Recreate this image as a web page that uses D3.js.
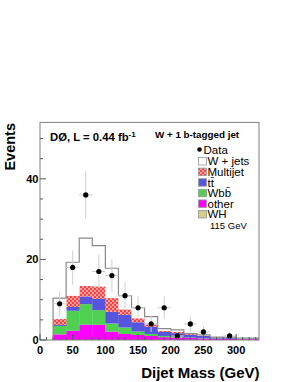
<!DOCTYPE html>
<html><head><meta charset="utf-8">
<script src="https://cdn.jsdelivr.net/npm/d3@7"></script>
<style>body{margin:0;background:#fff}svg{display:block;font-family:"Liberation Sans",Arial,Helvetica,sans-serif}</style>
</head><body><svg id="c" width="295" height="382"></svg>
<script>
// bins: 20 GeV wide, lower edges
const binLow = [20,40,60,80,100,120,140,160,180,200,220,240,260,280,300,320];
const binWidth = 20;
// stacked components (Events per bin)
const other    = [1.4,2.3,3.8,3.8,2.1,1.5,1.25,1.0,0.7,0.6,0.5,0.4,0.3,0.25,0.2,0.2];
const wbb      = [2.1,4.95,5.1,3.6,2.0,1.6,0.85,0.5,0.3,0.2,0.1,0.1,0.05,0.05,0.05,0.0];
const ttbar    = [0.25,0.95,1.9,2.85,2.9,3.15,2.3,1.8,1.0,0.9,0.7,0.5,0.25,0.25,0.15,0.15];
const multijet = [1.45,2.8,2.6,3.05,3.4,1.35,1.0,0.6,0.3,0.3,0.2,0.1,0.05,0.05,0.05,0.05];
const wjets    = [5.2,8.3,11.9,10.1,7.4,3.4,2.6,1.9,0.5,0.5,0.1,0.15,0.05,0.1,0.05,0.05];
// data points (bin centres)
const dataX = [30,50,70,90,110,130,150,170,190,210,230,250,270,290,310,330];
const dataN = [9,18,36,17,16,11,8,4,8,1,4,2,0,1,0,0];
const xTicks = [0,50,100,150,200,250,300];
const yTicks = [0,20,40];
const legendNames = ["W + jets","Multijet","tt\u0304","Wbb\u0304","other","WH"];

const svg = d3.select("#c");
const x = d3.scaleLinear().domain([0,335]).range([40,259]);
const y = d3.scaleLinear().domain([0,54]).range([340,122.4]);

const defs = svg.append("defs");
const pat = defs.append("pattern").attr("id","mj").attr("patternUnits","userSpaceOnUse")
  .attr("width",4).attr("height",4);
pat.append("rect").attr("width",4).attr("height",4).attr("fill","#ff4040");
pat.append("rect").attr("x",0).attr("y",0.5).attr("width",2).attr("height",1).attr("fill","#fff");
pat.append("rect").attr("x",2).attr("y",2.5).attr("width",2).attr("height",1).attr("fill","#fff");
defs.append("clipPath").attr("id","clip").append("rect")
  .attr("x",40).attr("y",122.4).attr("width",219).attr("height",217.6);

const keys = ["other","wbb","ttbar","multijet","wjets"];
const fills = {other:"#ff00ff", wbb:"#50d050", ttbar:"#5555dd", multijet:"url(#mj)", wjets:"#ffffff"};
const rows = binLow.map((b,i)=>({lo:b, other:other[i], wbb:wbb[i], ttbar:ttbar[i], multijet:multijet[i], wjets:wjets[i]}));
const stacked = d3.stack().keys(keys)(rows);

const g = svg.append("g").attr("clip-path","url(#clip)");
stacked.forEach(layer=>{
  g.append("g").selectAll("rect").data(layer).join("rect")
    .attr("x",d=>x(d.data.lo)).attr("width",d=>x(d.data.lo+binWidth)-x(d.data.lo)+0.3)
    .attr("y",d=>y(d[1])).attr("height",d=>Math.max(0,y(d[0])-y(d[1])))
    .attr("fill",fills[layer.key]);
});
// outline of total
const totals = stacked[stacked.length-1].map(d=>d[1]);
let pts = [[binLow[0],0]];
binLow.forEach((b,i)=>{pts.push([b,totals[i]]);pts.push([b+binWidth,totals[i]]);});
g.append("path").attr("d", d3.line().x(p=>x(p[0])).y(p=>y(p[1]))(pts))
  .attr("fill","none").attr("stroke","#8a8a8a").attr("stroke-width",1.2);

// data
const dg = svg.append("g");
dataX.forEach((c,i)=>{
  const n = dataN[i]; if(n<=0) return;
  const e = Math.sqrt(n);
  dg.append("line").attr("x1",x(c)).attr("x2",x(c)).attr("y1",y(n+e)).attr("y2",y(n-e))
    .attr("stroke","#cfcfcf").attr("stroke-width",1);
  dg.append("line").attr("x1",x(c-10)).attr("x2",x(c+10)).attr("y1",y(n)).attr("y2",y(n))
    .attr("stroke","#cfcfcf").attr("stroke-width",1);
});
dg.selectAll("circle").data(dataX.map((c,i)=>[c,dataN[i]]).filter(d=>d[1]>0)).join("circle")
  .attr("cx",d=>x(d[0])).attr("cy",d=>y(d[1])).attr("r",2.6).attr("fill","#000");

// frame
svg.append("rect").attr("x",40).attr("y",122.4).attr("width",219).attr("height",217.6)
  .attr("fill","none").attr("stroke","#808080").attr("stroke-width",1);

// ticks
const tg = svg.append("g").attr("stroke","#555").attr("stroke-width",1);
d3.range(0,331,10).forEach(v=>{
  const major = v%50===0;
  tg.append("line").attr("x1",x(v)).attr("x2",x(v)).attr("y1",340).attr("y2",340-(major?6:3));
});
d3.range(0,55,5).forEach(v=>{
  const major = v%20===0;
  tg.append("line").attr("x1",40).attr("x2",40+(major?6:3)).attr("y1",y(v)).attr("y2",y(v));
});
svg.append("g").selectAll("text").data(xTicks).join("text")
  .attr("x",d=>x(d)).attr("y",353.5).attr("text-anchor","middle")
  .attr("font-size",11).attr("font-weight","bold").text(d=>d);
svg.append("g").selectAll("text").data(yTicks).join("text")
  .attr("x",38.5).attr("y",d=>y(d)+4).attr("text-anchor","end")
  .attr("font-size",11).attr("font-weight","bold").text(d=>d);

// axis titles
svg.append("text").attr("transform","translate(15,123) rotate(-90)").attr("text-anchor","end")
  .attr("font-size",14.5).attr("font-weight","bold").text("Events");
svg.append("text").attr("x",259.5).attr("y",378).attr("text-anchor","end")
  .attr("font-size",15).attr("font-weight","bold").text("Dijet Mass (GeV)");

// header texts
const t1 = svg.append("text").attr("x",50).attr("y",141).attr("font-size",11.3).attr("font-weight","bold");
t1.append("tspan").text("DØ,  L = 0.44 fb");
t1.append("tspan").attr("dy",-4).attr("font-size",8).text("-1");
svg.append("text").attr("x",155).attr("y",137.5).attr("font-size",9.8).attr("font-weight","bold")
  .text("W + 1 b-tagged jet");

// legend
const lg = svg.append("g");
lg.append("circle").attr("cx",199.5).attr("cy",149.5).attr("r",2.3).attr("fill","#000");
lg.append("text").attr("x",203.5).attr("y",153.5).attr("font-size",11.5).text("Data");
const lfills = ["#ffffff","url(#mj)","#5555dd","#50d050","#ff00ff","#d4cc88"];
legendNames.forEach((nm,i)=>{
  const top = 157.5 + i*10.6;
  lg.append("rect").attr("x",198.5).attr("y",top).attr("width",8).attr("height",7.5)
    .attr("fill",lfills[i]).attr("stroke","#999").attr("stroke-width",0.8);
  lg.append("text").attr("x",207.5).attr("y",top+7.8).attr("font-size",11.5).text(nm);
});
lg.append("text").attr("x",210).attr("y",228.5).attr("font-size",9.5).text("115 GeV");
</script></body></html>
